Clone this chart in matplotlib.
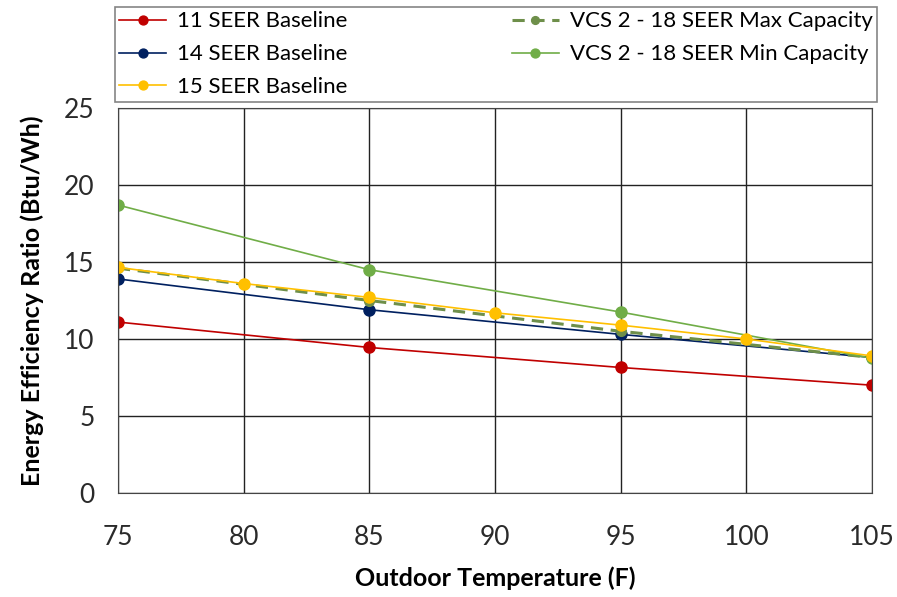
import matplotlib.pyplot as plt

plt.rcParams['font.family'] = ['Lato', 'DejaVu Sans']

# data
temp_4 = [75, 85, 95, 105]
temp_7 = [75, 80, 85, 90, 95, 100, 105]
seer11 = [11.1, 9.45, 8.15, 7.0]
seer14 = [13.9, 11.9, 10.3, 8.8]
seer15 = [14.65, 13.6, 12.7, 11.7, 10.9, 10.0, 8.9]
vcs_max = [14.6, 12.5, 10.5, 8.8]
vcs_min = [18.7, 14.5, 11.75, 8.75]

fig = plt.figure(figsize=(8.97, 5.97), dpi=100)
ax = fig.add_axes([118 / 897, 1 - 493 / 597, (872 - 118) / 897, (493 - 108) / 597])

l1, = ax.plot(temp_4, seer11, color='#C00000', marker='o', ms=8, lw=1.2, label='11 SEER Baseline')
l2, = ax.plot(temp_4, seer14, color='#002060', marker='o', ms=8, lw=1.2, label='14 SEER Baseline')
l4, = ax.plot(temp_4, vcs_max, color='#6E8F4A', marker='o', ms=7, lw=2.2, ls=(0, (4, 2.5)),
              label='VCS 2 - 18 SEER Max Capacity')
l5, = ax.plot(temp_4, vcs_min, color='#70AD47', marker='o', ms=8, lw=1.2, label='VCS 2 - 18 SEER Min Capacity')
l3, = ax.plot(temp_7, seer15, color='#FFC000', marker='o', ms=8, lw=1.2, label='15 SEER Baseline')

ax.set_xlim(75, 105)
ax.set_ylim(0, 25)
ax.set_xticks(range(75, 106, 5))
ax.set_yticks(range(0, 26, 5))
ax.grid(True, color='#222222', lw=1.0)
ax.set_axisbelow(True)
for s in ax.spines.values():
    s.set_color('#444444')
ax.tick_params(length=0, labelsize=19, colors='#2a2a2a')
ax.tick_params(axis='x', pad=23)
ax.tick_params(axis='y', pad=17)

ax.set_xlabel('Outdoor Temperature (F)', fontsize=18, fontweight='bold', labelpad=12)
ax.set_ylabel('Energy Efficiency Ratio (Btu/Wh)', fontsize=18, fontweight='bold', labelpad=14)

leg = fig.legend([l1, l2, l3, l4, l5],
                 ['11 SEER Baseline', '14 SEER Baseline', '15 SEER Baseline',
                  'VCS 2 - 18 SEER Max Capacity', 'VCS 2 - 18 SEER Min Capacity'],
                 ncol=2, loc='upper left', bbox_to_anchor=(115 / 897, 1 - 7 / 597),
                 fontsize=16, frameon=True, fancybox=False, edgecolor='#666666',
                 handlelength=2.1, handletextpad=0.5, columnspacing=7.4,
                 labelspacing=0.58, borderpad=0.2, borderaxespad=0, markerscale=0.8)
leg.get_frame().set_linewidth(1.2)

fig.savefig('out.png', dpi=100)
